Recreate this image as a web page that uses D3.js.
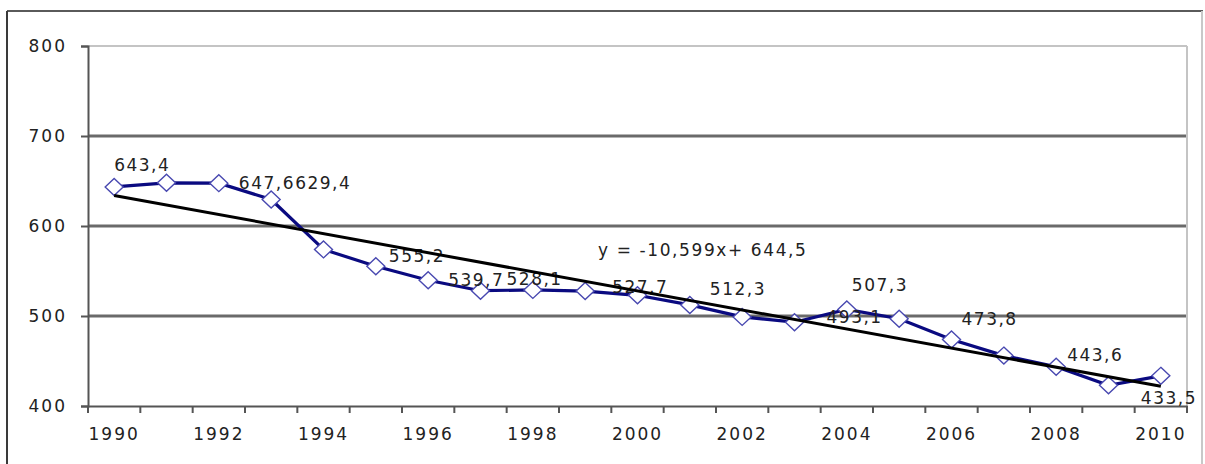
<!DOCTYPE html>
<html>
<head>
<meta charset="utf-8">
<script src="https://cdn.jsdelivr.net/npm/d3@7"></script>
<style>
html,body{margin:0;padding:0;background:#fff;}
svg{display:block;}
text{font-family:"DejaVu Sans",Verdana,sans-serif;fill:#222;}
</style>
</head>
<body>
<svg id="chart" width="1205" height="464"></svg>
<script>
// ---- data ----
const years = ["1990","1991","1992","1993","1994","1995","1996","1997","1998","1999","2000",
               "2001","2002","2003","2004","2005","2006","2007","2008","2009","2010"];
const values = [643.4,648,647.6,629.4,574,555.2,539.7,528.1,529,527.7,523,
                512.3,499,493.1,507.3,497,473.8,456,443.6,423,433.5];
const xTickLabels = ["1990","1992","1994","1996","1998","2000","2002","2004","2006","2008","2010"];
const yTicks = [400,500,600,700,800];
const labelledYears = ["1990","1992","1993","1995","1996","1997","1999","2001","2003","2004","2006","2008","2010"];
const trendSlope = -10.599;
const trendIntercept = 644.5;
const equationText = "y = -10,599x+ 644,5";

// label placement offsets (dx, dy) relative to each labelled point
const labelDx = [0,20,24,13,20,26,27,20,32,5,10,11,-20];
const labelDy = [-16,6,-11,-4,6,-6,2,-10,1,-18,-15,-6,28];

(function(){
const svg = d3.select("#chart");
const pL = 88, pR = 1187, pT = 46, pB = 406;

// outer frame
svg.append("line").attr("x1",7).attr("x2",1203).attr("y1",11).attr("y2",11).attr("stroke","#5a5a5a").attr("stroke-width",2);
svg.append("line").attr("x1",7).attr("x2",7).attr("y1",11).attr("y2",470).attr("stroke","#3a3a3a").attr("stroke-width",2);
svg.append("line").attr("x1",1202).attr("x2",1202).attr("y1",11).attr("y2",470).attr("stroke","#c8c8c8").attr("stroke-width",2);

const x = d3.scaleBand().domain(years).range([pL,pR]).paddingInner(0).paddingOuter(0);
const y = d3.scaleLinear().domain([400,800]).range([pB,pT]);
const cx = d => x(d) + x.bandwidth()/2;

// gridlines
svg.append("g").selectAll("line").data(yTicks.filter(t=>t>400)).join("line")
  .attr("x1",pL).attr("x2",pR)
  .attr("y1",d=>y(d)).attr("y2",d=>y(d))
  .attr("stroke",d=> d===800 ? "#c4c4c4" : "#6a6a6a")
  .attr("stroke-width",d=> d===800 ? 2 : 3);
svg.append("line").attr("x1",pR).attr("x2",pR).attr("y1",y(800)).attr("y2",y(400)).attr("stroke","#c4c4c4").attr("stroke-width",2);

// y axis
const yAxis = svg.append("g").attr("transform",`translate(${pL},0)`)
  .call(d3.axisLeft(y).tickValues(yTicks).tickSize(7).tickPadding(14).tickFormat(d3.format("d")));
yAxis.select(".domain").attr("stroke","#555").attr("stroke-width",2);
yAxis.selectAll(".tick line").attr("stroke","#555").attr("stroke-width",2);
yAxis.selectAll("text").style("font-size","17px").style("letter-spacing","2px").attr("fill","#222")
  .style("font-family","DejaVu Sans");

// x axis
const xAxis = svg.append("g").attr("transform",`translate(0,${pB})`)
  .call(d3.axisBottom(x).tickValues(xTickLabels).tickSize(0).tickPadding(22));
xAxis.select(".domain").attr("stroke","#555").attr("stroke-width",2);
xAxis.selectAll("text").style("font-size","17px").style("letter-spacing","2px").attr("fill","#222")
  .style("font-family","DejaVu Sans");
const edges = years.map(d=>x(d)).concat([x(years[years.length-1])+x.bandwidth()]);
svg.append("g").selectAll("line").data(edges).join("line")
  .attr("x1",d=>d).attr("x2",d=>d).attr("y1",pB).attr("y2",pB+7)
  .attr("stroke","#555").attr("stroke-width",2);

// series line
const pts = years.map((yr,i)=>({yr, v: values[i], i}));
svg.append("path").datum(pts)
  .attr("fill","none").attr("stroke","#0a0a80").attr("stroke-width",3.2)
  .attr("d", d3.line().x(d=>cx(d.yr)).y(d=>y(d.v)));

// markers
svg.append("g").selectAll("path").data(pts).join("path")
  .attr("transform",d=>`translate(${cx(d.yr)},${y(d.v)})`)
  .attr("d","M0,-8.5L9,0L0,8.5L-9,0Z")
  .attr("fill","#fff").attr("stroke","#4848b0").attr("stroke-width",1.4);

// data labels
const fmt = v => d3.format(".1f")(v).replace(".",",");
svg.append("g").selectAll("text").data(labelledYears).join("text")
  .attr("x",(d,i)=>cx(d)+labelDx[i])
  .attr("y",(d,i)=>y(values[years.indexOf(d)])+labelDy[i])
  .style("font-size","17px").style("letter-spacing","1.5px")
  .text(d=>fmt(values[years.indexOf(d)]));

// equation
svg.append("text").attr("x",598).attr("y",256)
  .style("font-size","17px").style("letter-spacing","1.6px")
  .text(equationText);

// trend line
svg.append("line")
  .attr("x1",cx(years[0])).attr("y1",y(trendSlope*1+trendIntercept))
  .attr("x2",cx(years[years.length-1])).attr("y2",y(trendSlope*years.length+trendIntercept))
  .attr("stroke","#000").attr("stroke-width",3);
})();
</script>
</body>
</html>
